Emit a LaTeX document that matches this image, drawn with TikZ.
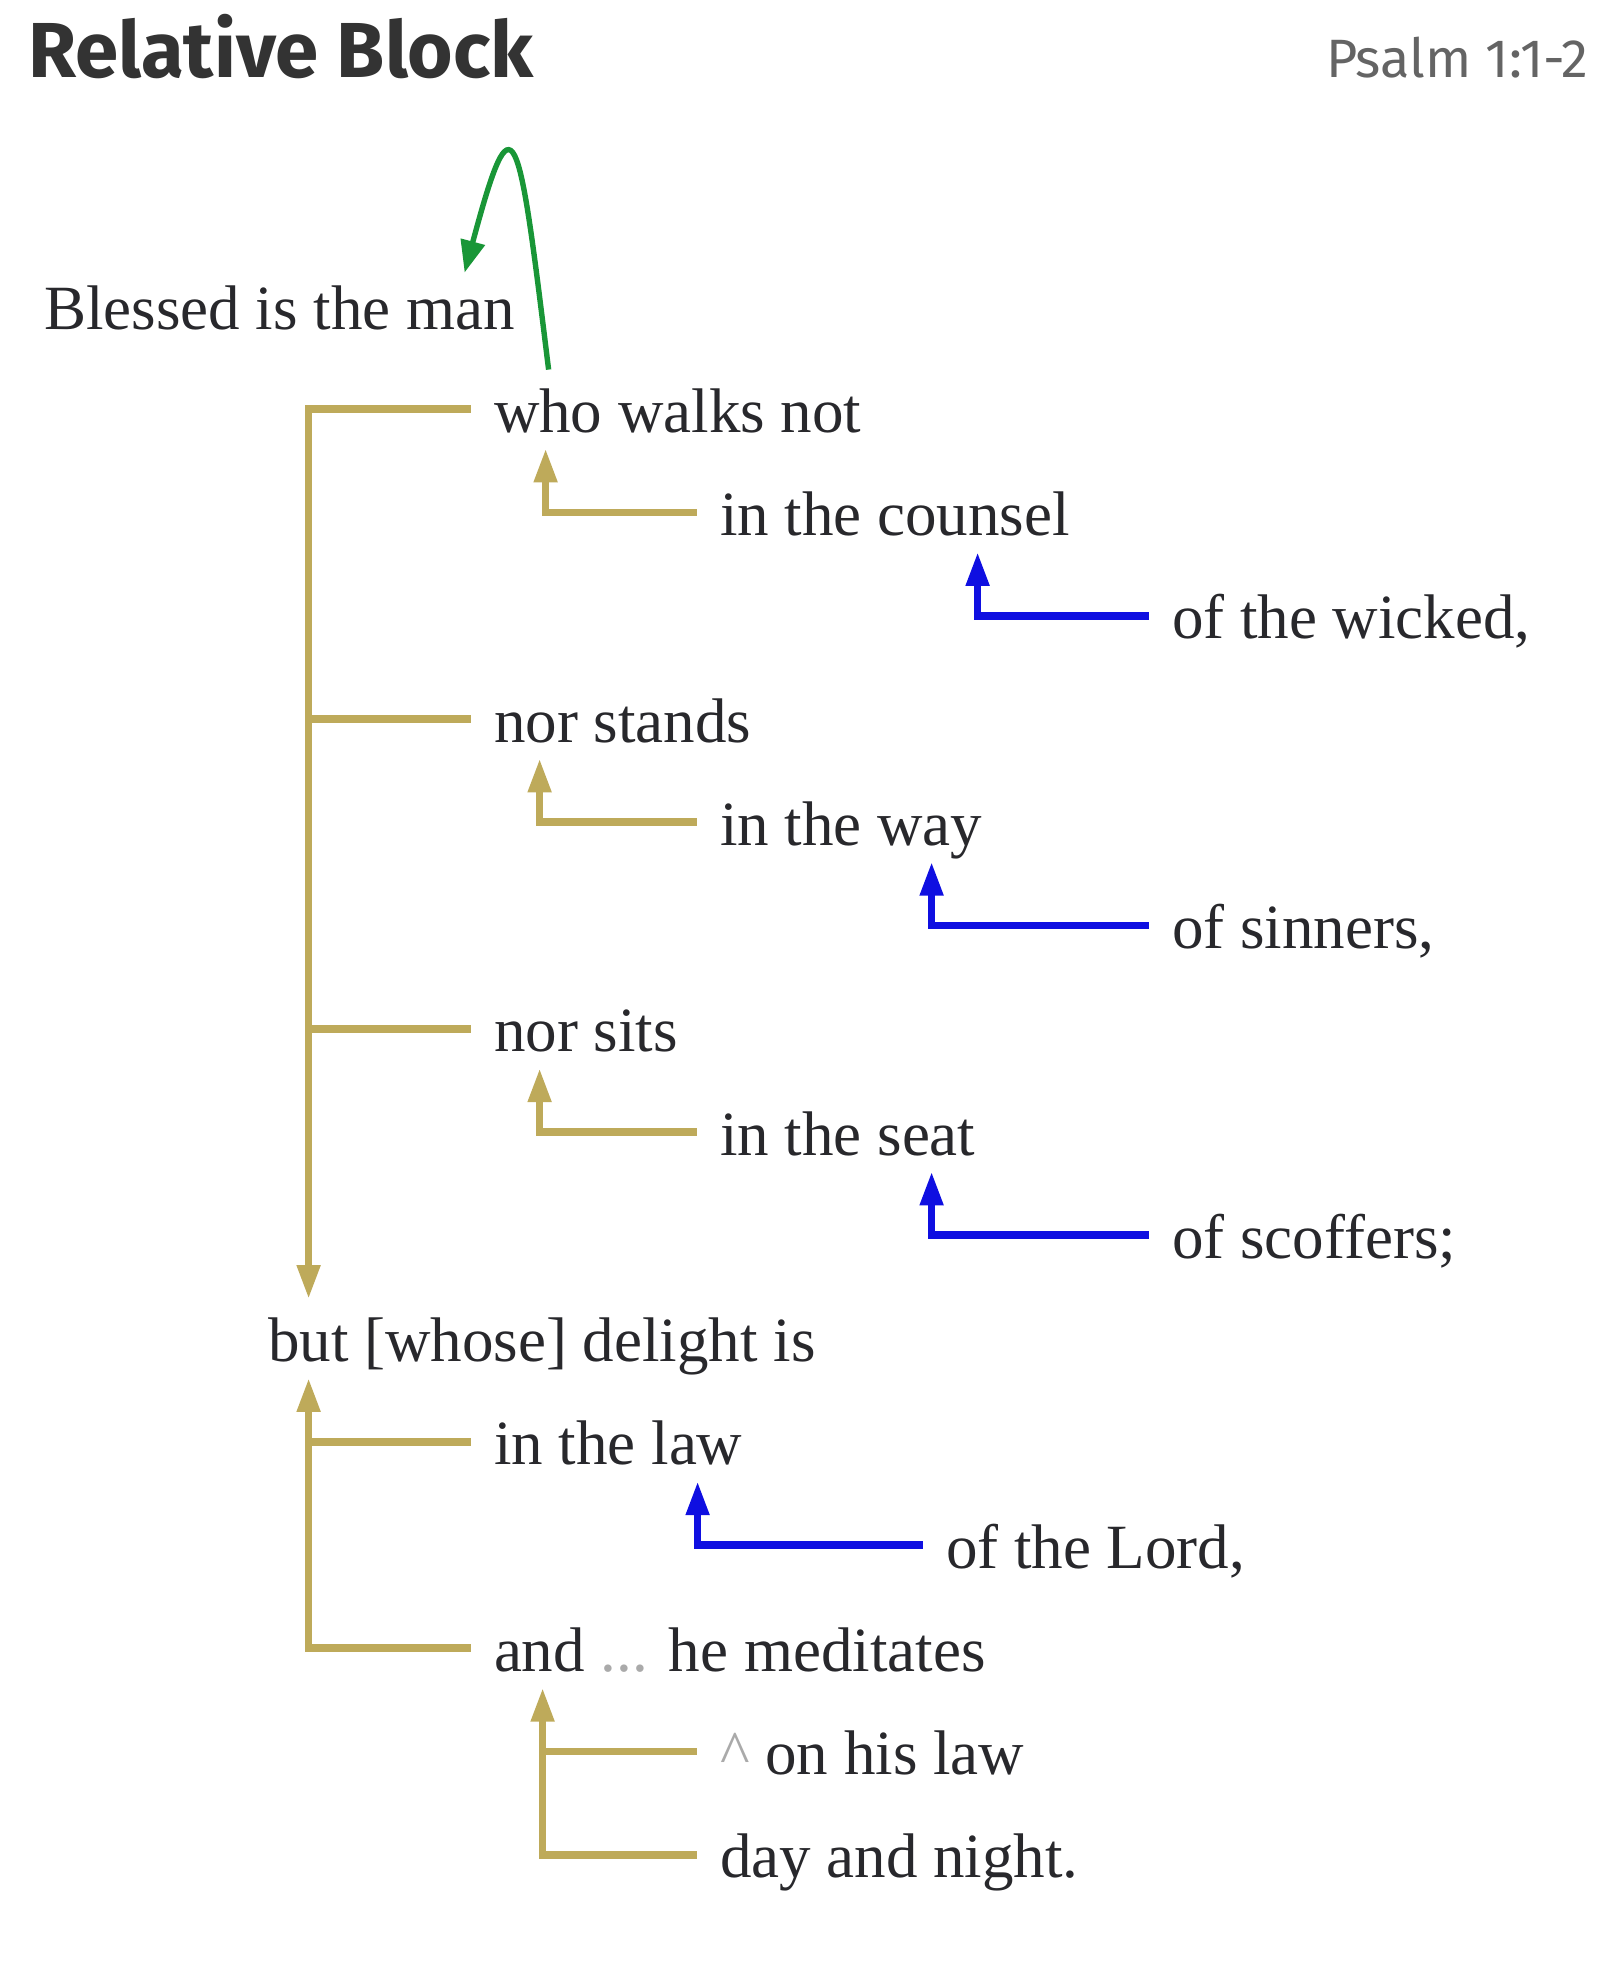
\documentclass[tikz,border=0pt]{standalone}
\usepackage{fontspec}
\setmainfont{Liberation Serif}
\newfontfamily\headfont{Fira Sans}
\usepackage{tikz}
\definecolor{linkgold}{RGB}{190,170,90}
\definecolor{linkblue}{RGB}{15,15,225}
\definecolor{linkgreen}{RGB}{25,150,55}
\definecolor{inkgray}{RGB}{40,40,44}
\definecolor{titlegray}{RGB}{51,51,51}
\definecolor{refgray}{RGB}{100,100,100}
\definecolor{dotgray}{RGB}{170,170,170}
\usetikzlibrary{positioning,arrows.meta}

\tikzset{
  clause/.style={anchor=text, inner xsep=11.5pt, inner ysep=4pt, text height=27pt, text depth=4pt,
    text=inkgray, font=\fontsize{31.5pt}{36pt}\selectfont},
  goldline/.style={draw=linkgold, line width=3.8pt},
  goldarr/.style={goldline, -{Triangle[length=17pt,width=11pt]}},
  bluearr/.style={draw=linkblue, line width=3.8pt, -{Triangle[length=17pt,width=11pt]}},
  greenarr/.style={draw=linkgreen, line width=2.7pt, -{Triangle[length=16pt,width=12pt]}}
}

\begin{document}
\begin{tikzpicture}[x=0.5pt, y=0.5pt]
  \useasboundingbox (0,0) rectangle (1600,-1969);

  % heading
  \node[anchor=base west, inner sep=0pt, text=titlegray, font=\headfont\bfseries\fontsize{39pt}{43pt}\selectfont] (title) at (28,-78) {Relative Block};
  \node[anchor=base east, inner sep=0pt, text=refgray, font=\headfont\fontsize{27pt}{30pt}\selectfont] (ref) at (1589,-78) {Psalm 1:1-2};

  % clauses, one per line
  \node[clause] (blessed) at (44,-329) {Blessed is the man};
  \node[clause] (walks) at (494,-432) {who walks not};
  \node[clause] (counsel) at (720,-535.5) {in the counsel};
  \node[clause] (wicked) at (1172,-638.75) {of the wicked,};
  \node[clause] (stands) at (494,-742) {nor stands};
  \node[clause] (way) at (720,-845.25) {in the way};
  \node[clause] (sinners) at (1172,-948.5) {of sinners,};
  \node[clause] (sits) at (494,-1051.75) {nor sits};
  \node[clause] (seat) at (720,-1155) {in the seat};
  \node[clause] (scoffers) at (1172,-1258.25) {of scoffers;};
  \node[clause] (delight) at (268,-1361.5) {but [whose] delight is};
  \node[clause] (law) at (494,-1464.75) {in the law};
  \node[clause] (lord) at (946,-1568) {of the Lord,};
  \node[clause] (meditates) at (494,-1671.25) {and \textcolor{dotgray}{...} he meditates};
  \node[clause] (onlaw) at (720,-1774.5) {\textcolor{dotgray}{\textasciicircum} on his law};
  \node[clause] (night) at (720,-1877.75) {day and night.};

  % trunk points
  \coordinate (trunkA) at ([xshift=32pt]delight.north west);
  \coordinate (trunkB) at ([xshift=32pt]delight.south west);
  \coordinate (trunkC) at ([xshift=36pt]meditates.south west);

  % relative clause back to "man"
  \draw[greenarr] ([xshift=39pt]walks.north west) .. controls +(97:250) and +(75:190) .. ([xshift=222pt,yshift=-3pt]blessed.north west);

  % gold: coordinate links
  \draw[goldarr] (walks.west) -| (trunkA);
  \draw[goldline] (stands.west) -- (stands.west -| trunkA);
  \draw[goldline] (sits.west) -- (sits.west -| trunkA);
  \draw[goldarr] (meditates.west) -| (trunkB);
  \draw[goldline] (law.west) -- (law.west -| trunkB);

  % gold: phrases to their verbs
  \draw[goldarr] (counsel.west) -| ([xshift=37.5pt]walks.south west);
  \draw[goldarr] (way.west) -| ([xshift=34.5pt]stands.south west);
  \draw[goldarr] (seat.west) -| ([xshift=34.5pt]sits.south west);
  \draw[goldarr] (night.west) -| (trunkC);
  \draw[goldline] (onlaw.west) -- (onlaw.west -| trunkC);

  % blue: "of" phrases
  \draw[bluearr] (wicked.west) -| ([xshift=140.5pt]counsel.south west);
  \draw[bluearr] (sinners.west) -| ([xshift=117.5pt]way.south west);
  \draw[bluearr] (scoffers.west) -| ([xshift=117.5pt]seat.south west);
  \draw[bluearr] (lord.west) -| ([xshift=113.5pt]law.south west);
\end{tikzpicture}
\end{document}
